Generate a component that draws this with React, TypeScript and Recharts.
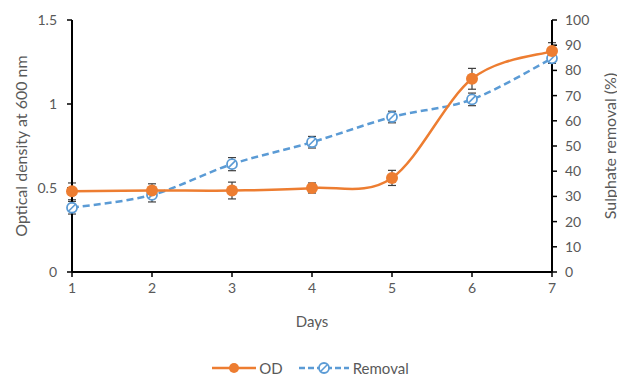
import React from 'react';
import { LineChart, Line, XAxis, YAxis, ErrorBar, Legend } from 'recharts';

const days = [1, 2, 3, 4, 5, 6, 7];
const odValues = [0.48, 0.485, 0.485, 0.5, 0.56, 1.15, 1.315];
const odErrors = [0.05, 0.04, 0.05, 0.03, 0.045, 0.062, 0.05];
const removalValues = [25.5, 30.6, 42.8, 51.5, 61.5, 68.5, 84.8];
const removalErrors = [2.5, 2.8, 2.6, 2.3, 2.3, 2.5, 2];
const xTicks = [1, 2, 3, 4, 5, 6, 7];
const leftTicks = [0, 0.5, 1, 1.5];
const rightTicks = [0, 10, 20, 30, 40, 50, 60, 70, 80, 90, 100];

const data = days.map((d, i) => ({
  day: d,
  od: odValues[i],
  odErr: odErrors[i],
  removal: removalValues[i],
  removalErr: removalErrors[i],
}));

const ORANGE = '#ED7D31';
const BLUE = '#5B9BD5';
const GREY = '#595959';
const FONT = 'Lato, "Liberation Sans", sans-serif';

// Catmull-Rom style smoothing (similar to Excel's smoothed line)
const smoothCurve: any = (context: any) => {
  let pts: number[][] = [];
  return {
    areaStart() {},
    areaEnd() {},
    lineStart() {
      pts = [];
    },
    point(x: number, y: number) {
      pts.push([x, y]);
    },
    lineEnd() {
      if (!pts.length) return;
      context.moveTo(pts[0][0], pts[0][1]);
      const t = 1 / 6;
      for (let i = 0; i < pts.length - 1; i++) {
        const p0 = pts[i - 1] || pts[i];
        const p1 = pts[i];
        const p2 = pts[i + 1];
        const p3 = pts[i + 2] || pts[i + 1];
        context.bezierCurveTo(
          p1[0] + (p2[0] - p0[0]) * t,
          p1[1] + (p2[1] - p0[1]) * t,
          p2[0] - (p3[0] - p1[0]) * t,
          p2[1] - (p3[1] - p1[1]) * t,
          p2[0],
          p2[1]
        );
      }
    },
  };
};

const HatchDot = (props: any) => {
  const { cx, cy } = props;
  if (cx == null || cy == null) return null;
  const r = 5;
  const d = r * 0.7;
  return (
    <g>
      <circle cx={cx} cy={cy} r={r} fill="#ffffff" stroke={BLUE} strokeWidth={1.8} />
      <line x1={cx - d} y1={cy + d} x2={cx + d} y2={cy - d} stroke={BLUE} strokeWidth={1.6} />
    </g>
  );
};

const RotLabel = ({ viewBox, value, dx, angle }: any) => {
  const cx = viewBox.x + dx;
  const cy = viewBox.y + viewBox.height / 2;
  return (
    <text
      x={cx}
      y={cy}
      transform={`rotate(${angle}, ${cx}, ${cy})`}
      textAnchor="middle"
      dominantBaseline="central"
      fill={GREY}
      fontSize={16}
      fontFamily={FONT}
    >
      {value}
    </text>
  );
};

const XLabel = ({ viewBox }: any) => (
  <text
    x={viewBox.x + viewBox.width / 2}
    y={viewBox.y + 49}
    textAnchor="middle"
    dominantBaseline="central"
    fill={GREY}
    fontSize={15}
    fontFamily={FONT}
  >
    Days
  </text>
);

const LegendContent = () => (
  <div
    style={{
      width: 617,
      height: 32,
      display: 'flex',
      justifyContent: 'center',
      alignItems: 'flex-end',
      fontFamily: FONT,
      fontSize: 15,
      color: GREY,
    }}
  >
    <div style={{ display: 'flex', alignItems: 'center', height: 16, marginRight: 16, marginLeft: 4 }}>
      <svg width={44} height={14} style={{ marginRight: 3 }}>
        <line x1={0} y1={7} x2={44} y2={7} stroke={ORANGE} strokeWidth={2.5} />
        <circle cx={22} cy={7} r={5} fill={ORANGE} />
      </svg>
      <span>OD</span>
    </div>
    <div style={{ display: 'flex', alignItems: 'center', height: 16 }}>
      <svg width={50} height={14} style={{ marginRight: 4 }}>
        <line x1={0} y1={7} x2={50} y2={7} stroke={BLUE} strokeWidth={2.5} strokeDasharray="6 3" />
        <circle cx={25} cy={7} r={5} fill="#fff" stroke={BLUE} strokeWidth={1.8} />
        <line x1={21.5} y1={10.5} x2={28.5} y2={3.5} stroke={BLUE} strokeWidth={1.6} />
      </svg>
      <span>Removal</span>
    </div>
  </div>
);

export default function App() {
  return (
    <div style={{ position: 'absolute', left: 0, top: 0, width: 617, height: 376, background: '#fff' }}>
      <LineChart width={617} height={376} data={data} margin={{ top: 20, right: 0, bottom: 0, left: 0 }}>
        <XAxis
          dataKey="day"
          type="number"
          domain={[1, 7]}
          ticks={xTicks}
          interval={0}
          height={72}
          axisLine={{ stroke: '#000', strokeWidth: 2 }}
          tickLine={{ stroke: '#000', strokeWidth: 1.5 }}
          tickSize={5}
          tickMargin={6}
          tick={{ fill: GREY, fontSize: 14, fontFamily: FONT }}
          label={{ content: (p: any) => <XLabel viewBox={p.viewBox} /> }}
        />
        <YAxis
          yAxisId="left"
          orientation="left"
          domain={[0, 1.5]}
          ticks={leftTicks}
          interval={0}
          width={72}
          axisLine={{ stroke: '#000', strokeWidth: 2 }}
          tickLine={{ stroke: '#000', strokeWidth: 1.5 }}
          tickSize={5}
          tickMargin={10}
          tick={{ fill: GREY, fontSize: 14, fontFamily: FONT }}
          label={{
            content: (p: any) => (
              <RotLabel viewBox={p.viewBox} value="Optical density at 600 nm" dx={20} angle={-90} />
            ),
          }}
        />
        <YAxis
          yAxisId="right"
          orientation="right"
          domain={[0, 100]}
          ticks={rightTicks}
          interval={0}
          width={65}
          axisLine={{ stroke: '#000', strokeWidth: 2 }}
          tickLine={{ stroke: '#000', strokeWidth: 1.5 }}
          tickSize={5}
          tickMargin={8}
          tick={{ fill: GREY, fontSize: 14, fontFamily: FONT }}
          label={{
            content: (p: any) => (
              <RotLabel viewBox={p.viewBox} value="Sulphate removal (%)" dx={57} angle={-90} />
            ),
          }}
        />
        <Legend verticalAlign="bottom" content={() => <LegendContent />} wrapperStyle={{ left: 0, width: 617 }} />
        <Line
          yAxisId="right"
          dataKey="removal"
          type={smoothCurve}
          stroke={BLUE}
          strokeWidth={2.5}
          strokeDasharray="7 4"
          dot={<HatchDot />}
          activeDot={false}
          isAnimationActive={false}
        >
          <ErrorBar dataKey="removalErr" direction="y" width={4} stroke="#404040" strokeWidth={1.2} />
        </Line>
        <Line
          yAxisId="left"
          dataKey="od"
          type={smoothCurve}
          stroke={ORANGE}
          strokeWidth={2.5}
          dot={{ r: 6, fill: ORANGE, stroke: ORANGE, strokeWidth: 0 }}
          activeDot={false}
          isAnimationActive={false}
        >
          <ErrorBar dataKey="odErr" direction="y" width={4} stroke="#404040" strokeWidth={1.2} />
        </Line>
      </LineChart>
    </div>
  );
}
